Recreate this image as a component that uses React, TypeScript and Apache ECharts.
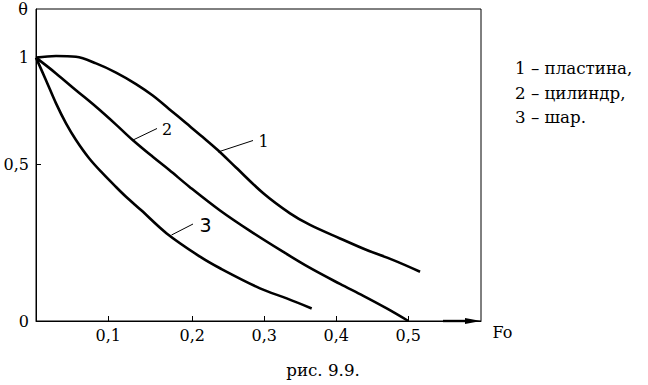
import React, { useEffect, useRef } from "react";
import * as echarts from "echarts";

// Fourier number (Fo) values where curves were read, and dimensionless temperature θ
const plateFo = [0, 0.0277, 0.0553, 0.083, 0.1092, 0.133, 0.1529, 0.1726, 0.1925, 0.2144, 0.2353, 0.2607, 0.2986, 0.3357, 0.3635, 0.4051, 0.4422, 0.4792, 0.5163];
const plateTheta = [1.0, 1.008, 1.004, 0.973, 0.93, 0.876, 0.822, 0.758, 0.6925, 0.627, 0.566, 0.489, 0.407, 0.343, 0.306, 0.263, 0.226, 0.194, 0.157];

const cylFo = [0, 0.0277, 0.0553, 0.083, 0.1092, 0.129, 0.1529, 0.1726, 0.1964, 0.2385, 0.2801, 0.3264, 0.3635, 0.4051, 0.4375, 0.47, 0.5];
const cylTheta = [1.0, 0.926, 0.847, 0.769, 0.6854, 0.613, 0.534, 0.481, 0.428, 0.352, 0.287, 0.22, 0.169, 0.118, 0.08, 0.04, 0];

const sphFo = [0, 0.0138, 0.0277, 0.0415, 0.0553, 0.0737, 0.0923, 0.1092, 0.1211, 0.1389, 0.1695, 0.2107, 0.2385, 0.294, 0.3311, 0.3658];
const sphTheta = [1.0, 0.894, 0.785, 0.691, 0.613, 0.526, 0.47, 0.427, 0.396, 0.3535, 0.279, 0.205, 0.168, 0.104, 0.072, 0.04];

const foTicks = [0.1, 0.2, 0.3, 0.4, 0.5];
const thetaTicks = [0, 0.5, 1];
const legendLines = ["1 \u2013 \u043f\u043b\u0430\u0441\u0442\u0438\u043d\u0430,", "2 \u2013 \u0446\u0438\u043b\u0438\u043d\u0434\u0440,", "3 \u2013 \u0448\u0430\u0440."];
const caption = "\u0440\u0438\u0441. 9.9.";

// calibration of the hand-drawn (non-uniform) axes
const FO_KNOTS = [0, 0.1, 0.2, 0.3, 0.4, 0.5];
const FO_AXIS = [0, 0.0971, 0.2099, 0.3066, 0.4033, 0.5];
const TH_KNOTS = [0, 0.5, 1];
const TH_AXIS = [0, 0.5, 0.839];

function piecewise(v: number, ks: number[], ps: number[]): number {
  const n = ks.length;
  let i = 0;
  if (v <= ks[0]) i = 0;
  else if (v >= ks[n - 1]) i = n - 2;
  else {
    while (i < n - 2 && v > ks[i + 1]) i++;
  }
  const t = (v - ks[i]) / (ks[i + 1] - ks[i]);
  return ps[i] + t * (ps[i + 1] - ps[i]);
}
const fx = (v: number) => piecewise(v, FO_KNOTS, FO_AXIS);
const fy = (v: number) => piecewise(v, TH_KNOTS, TH_AXIS);

const fmt = (v: number) => String(v).replace(".", ",");

function nearestLabel(v: number, ticks: number[], f: (x: number) => number) {
  let best = ticks[0];
  let d = Infinity;
  for (const t of ticks) {
    const dd = Math.abs(f(t) - v);
    if (dd < d) {
      d = dd;
      best = t;
    }
  }
  return fmt(best);
}

const FONT = "DejaVu Serif";

export default function App() {
  const ref = useRef<HTMLDivElement>(null);
  useEffect(() => {
    if (!ref.current) return;
    const chart = echarts.init(ref.current, null, { renderer: "svg" });
    const mk = (xs: number[], ys: number[]) => xs.map((x, i) => [fx(x), fy(ys[i])]);
    const lineStyle = { color: "#000", width: 2.6 };
    const series = [
      { data: mk(plateFo, plateTheta) },
      { data: mk(cylFo, cylTheta) },
      { data: mk(sphFo, sphTheta) },
    ].map((s) => ({
      type: "line",
      data: s.data,
      showSymbol: false,
      smooth: 0.35,
      lineStyle,
      silent: true,
    }));
    const txt = (text: string, x: number, y: number, extra: any = {}) => ({
      type: "text",
      x,
      y,
      style: {
        text,
        fill: "#000",
        font: `16px "${FONT}"`,
        align: "center",
        verticalAlign: "middle",
        ...extra,
      },
    });
    chart.setOption({
      animation: false,
      grid: {
        left: 36,
        top: 9,
        right: 167,
        bottom: 64,
        show: true,
        borderColor: "#000",
        borderWidth: 1,
      },
      xAxis: {
        type: "value",
        min: 0,
        max: 0.5976,
        axisLine: { show: true, lineStyle: { color: "#000", width: 1 } },
        axisTick: {
          show: true,
          inside: true,
          length: 5,
          customValues: foTicks.map(fx),
          lineStyle: { color: "#000" },
        },
        axisLabel: {
          customValues: foTicks.map(fx),
          formatter: (v: number) => nearestLabel(v, foTicks, fx),
          color: "#000",
          fontFamily: FONT,
          fontSize: 16,
          margin: 6,
        },
        splitLine: { show: false },
      },
      yAxis: {
        type: "value",
        min: 0,
        max: 0.994,
        axisLine: { show: true, lineStyle: { color: "#000", width: 1 } },
        axisTick: {
          show: true,
          inside: true,
          length: 5,
          customValues: [fy(0.5)],
          lineStyle: { color: "#000" },
        },
        axisLabel: {
          customValues: thetaTicks.map(fy),
          formatter: (v: number) => nearestLabel(v, thetaTicks, fy),
          color: "#000",
          fontFamily: FONT,
          fontSize: 16,
          margin: 7,
        },
        splitLine: { show: false },
      },
      series,
      graphic: [
        // axis arrow
        { type: "line", shape: { x1: 443, y1: 321, x2: 468, y2: 321 }, style: { stroke: "#000", lineWidth: 2.4 } },
        { type: "polygon", shape: { points: [[465, 318], [481, 321], [465, 324]] }, style: { fill: "#000" } },
        txt("\u03b8", 23, 9),
        txt("Fo", 502.5, 332.5),
        // curve labels with leader lines
        { type: "line", shape: { x1: 218, y1: 152, x2: 253, y2: 140.5 }, style: { stroke: "#000", lineWidth: 1 } },
        txt("1", 263.5, 141.5),
        { type: "line", shape: { x1: 132, y1: 140.5, x2: 157, y2: 128.5 }, style: { stroke: "#000", lineWidth: 1 } },
        txt("2", 167, 129.5),
        { type: "line", shape: { x1: 171.5, y1: 235, x2: 193, y2: 224 }, style: { stroke: "#000", lineWidth: 1 } },
        txt("3", 205.5, 224.5, { font: '19px "DejaVu Sans"' }),
        ...legendLines.map((t, i) => txt(t, 515, 68 + i * 24.5, { align: "left", font: `16.7px "${FONT}"` })),
        txt(caption, 323, 370, { font: `16.7px "${FONT}"` }),
      ],
    });
    return () => chart.dispose();
  }, []);
  return (
    <div
      ref={ref}
      style={{ position: "fixed", left: 0, top: 0, width: 648, height: 385, background: "#fff" }}
    />
  );
}
